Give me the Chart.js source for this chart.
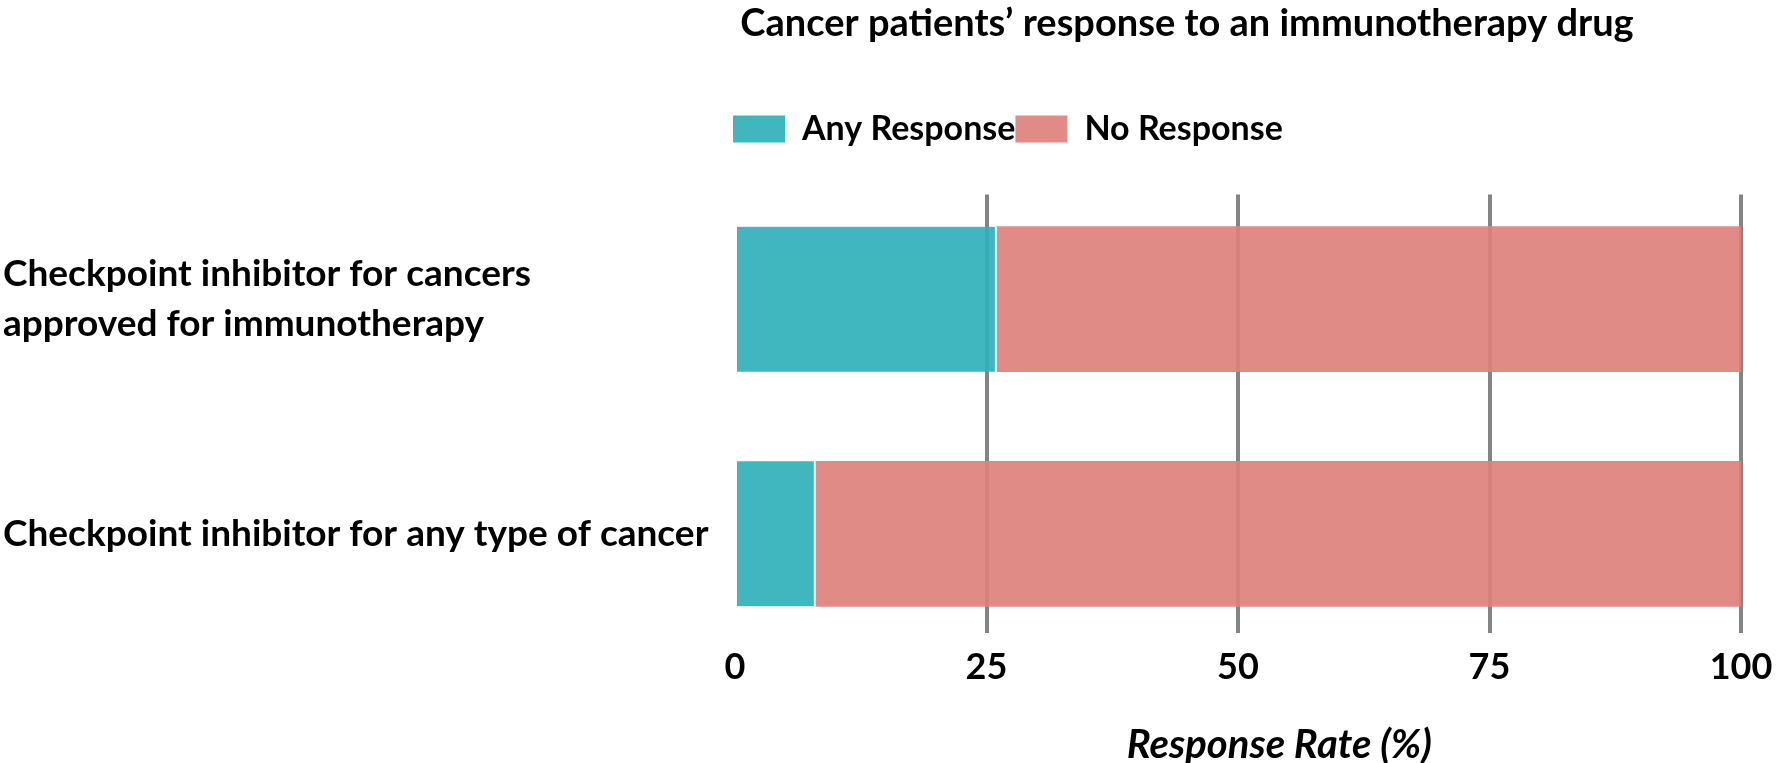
<!DOCTYPE html>
<html>
<head>
<meta charset="utf-8">
<title>Cancer patients’ response to an immunotherapy drug</title>
<script src="https://cdn.jsdelivr.net/npm/chart.js@4.4.1/dist/chart.umd.min.js"></script>
<style>
  html, body { margin: 0; padding: 0; background: #ffffff; }
  #chart { display: block; }
</style>
</head>
<body>
<canvas id="chart" width="1776" height="763"></canvas>
<script>
// Categories (one per bar), top to bottom
const categories = [
  ['Checkpoint inhibitor for cancers', 'approved for immunotherapy'],
  'Checkpoint inhibitor for any type of cancer'
];
const seriesNames = ['Any Response', 'No Response'];
// Share of patients, in percent
const anyResponse = [26, 8];
const noResponse = [74, 92];
const xTickValues = [0, 25, 50, 75, 100];
const chartTitle = 'Cancer patients’ response to an immunotherapy drug';
const xAxisTitle = 'Response Rate (%)';

const FONT = 'Lato';
const TEAL = 'rgba(48, 176, 184, 0.92)';
const SALMON = 'rgba(222, 129, 125, 0.92)';
const GRID = '#848484';

// Puts the title and legend blocks where they belong above the plot
const blockPlacement = {
  id: 'blockPlacement',
  afterLayout(chart, args, opts) {
    const area = chart.chartArea;
    const legend = chart.legend;
    if (legend) {
      const h = legend.height;
      legend.left = area.left + opts.legendDx;
      legend.top = opts.legendTop;
      legend.bottom = legend.top + h;
      legend.right = chart.width;
    }
    const title = chart.titleBlock;
    if (title) {
      title.left = 2 * opts.titleCenter - chart.width;
      title.right = chart.width;
    }
  }
};

function buildChart() {
  const ctx = document.getElementById('chart').getContext('2d');
  new Chart(ctx, {
    type: 'bar',
    data: {
      datasets: [
        {
          label: seriesNames[0],
          data: anyResponse.map((v, i) => ({ x: v, y: i })),
          backgroundColor: TEAL,
          borderColor: '#ffffff',
          borderWidth: { top: 0, bottom: 0, left: 0, right: 2 },
          borderSkipped: false,
          barThickness: 145
        },
        {
          label: seriesNames[1],
          data: noResponse.map((v, i) => ({ x: v, y: i })),
          backgroundColor: SALMON,
          borderWidth: 0,
          barThickness: 145
        }
      ]
    },
    plugins: [blockPlacement],
    options: {
      responsive: false,
      animation: false,
      indexAxis: 'y',
      layout: { padding: { left: 3, right: 35, top: 0, bottom: 0 } },
      plugins: {
        blockPlacement: { legendTop: 112, legendDx: -2, titleCenter: 1187 },
        title: {
          display: true,
          text: chartTitle,
          color: '#000000',
          font: { family: FONT, size: 38, weight: 'bold' },
          padding: { top: 1, bottom: 104 }
        },
        legend: {
          display: true,
          position: 'top',
          align: 'start',
          labels: {
            boxWidth: 52,
            boxHeight: 27,
            padding: 0,
            color: '#000000',
            font: { family: FONT, size: 34, weight: 'bold' },
            generateLabels: (chart) =>
              Chart.defaults.plugins.legend.labels.generateLabels(chart)
                .map(item => Object.assign(item, { lineWidth: 0 }))
          }
        },
        tooltip: { enabled: false }
      },
      scales: {
        x: {
          type: 'linear',
          stacked: true,
          min: 0,
          max: 100,
          afterBuildTicks: (scale) => { scale.ticks = xTickValues.map(v => ({ value: v })); },
          // the "100" label fits inside the layout's right padding
          afterFit: (scale) => { scale.paddingRight = 0; },
          ticks: {
            color: '#000000',
            padding: 13,
            font: { family: FONT, size: 36, weight: 'bold' }
          },
          grid: {
            color: (c) => (c.tick && c.tick.value === 0) ? 'rgba(0,0,0,0)' : GRID,
            lineWidth: 4,
            drawTicks: false
          },
          border: { display: false },
          title: {
            display: true,
            text: '\u2003\u2003\u2003' + xAxisTitle,
            color: '#000000',
            font: { family: FONT, size: 40, weight: 'bold', style: 'italic' },
            padding: { top: 19, bottom: -6 }
          }
        },
        y: {
          type: 'linear',
          stacked: true,
          offset: false,
          reverse: true,
          min: -0.4454,
          max: 1.4218,
          afterBuildTicks: (scale) => { scale.ticks = categories.map((_, i) => ({ value: i })); },
          afterFit: (scale) => { scale.width = 732; },
          ticks: {
            crossAlign: 'far',
            color: '#000000',
            font: { family: FONT, size: 37, weight: 'bold', lineHeight: 1.33 },
            callback: (v) => categories[v]
          },
          grid: { display: false, offset: false },
          border: { display: false }
        }
      }
    }
  });
}

const fontsReady = document.fonts && document.fonts.load
  ? Promise.all([
      document.fonts.load('bold 36px Lato'),
      document.fonts.load('italic bold 36px Lato')
    ]).catch(() => null)
  : Promise.resolve();
fontsReady.then(buildChart);
</script>
</body>
</html>
